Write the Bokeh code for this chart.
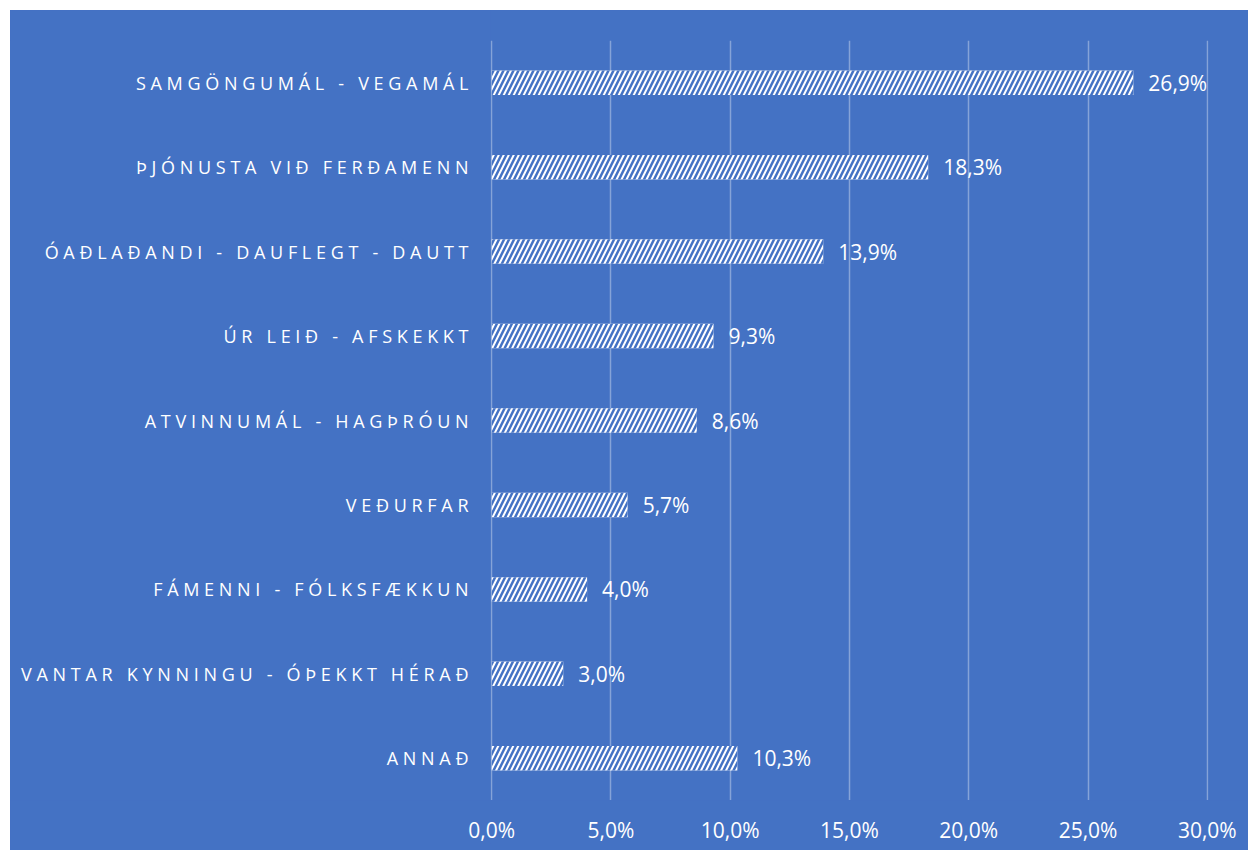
from bokeh.plotting import figure
from bokeh.models import ColumnDataSource, FixedTicker, FactorRange, Range1d, Spacer
from bokeh.layouts import row, column
from bokeh.core.properties import value
from bokeh.embed import file_html
from bokeh.resources import INLINE

categories = [
    "SAMGÖNGUMÁL - VEGAMÁL",
    "ÞJÓNUSTA VIÐ FERÐAMENN",
    "ÓAÐLAÐANDI - DAUFLEGT - DAUTT",
    "ÚR LEIÐ - AFSKEKKT",
    "ATVINNUMÁL - HAGÞRÓUN",
    "VEÐURFAR",
    "FÁMENNI - FÓLKSFÆKKUN",
    "VANTAR KYNNINGU - ÓÞEKKT HÉRAÐ",
    "ANNAÐ",
]
values = [26.9, 18.3, 13.9, 9.3, 8.6, 5.7, 4.0, 3.0, 10.3]
ticks = [0, 5, 10, 15, 20, 25, 30]

def fmt(v):
    return f"{v:.1f}".replace(".", ",") + "%"

BLUE = "#4472C4"
FONT = "Open Sans"
LS = 4.7  # letter spacing of category labels (px)

yr = FactorRange(factors=list(reversed(categories)))
xr = Range1d(-0.05, 30.05)

# ---- left figure: category labels (letter-spaced) ----
lab_src = ColumnDataSource(dict(
    cat=categories,
    x=[1.0] * len(categories),
    off=[-22 - (len(c) - 1) * LS for c in categories],
))
pl = figure(width=480, height=790, y_range=yr, x_range=Range1d(0, 1),
            output_backend="svg", toolbar_location=None,
            min_border_left=0, min_border_right=0, min_border_top=30, min_border_bottom=0)
pl.background_fill_color = BLUE
pl.border_fill_color = BLUE
pl.outline_line_color = None
pl.axis.visible = False
pl.grid.visible = False
pl.text(x="x", y="cat", text="cat", source=lab_src, x_offset="off",
        text_align="right", text_baseline="middle", text_color="white",
        text_font=value(FONT), text_font_size="18px")
pl.styles = {"letter-spacing": f"{LS}px", "background-color": BLUE}

# ---- main figure: bars ----
src = ColumnDataSource(dict(cat=categories, val=values, lab=[fmt(v) for v in values]))
p = figure(width=758, height=790, y_range=yr, x_range=xr,
           output_backend="svg", toolbar_location=None,
           min_border_left=0, min_border_right=40, min_border_top=30, min_border_bottom=0)
p.background_fill_color = BLUE
p.border_fill_color = BLUE
p.outline_line_color = None
p.styles = {"background-color": BLUE}
p.axis.visible = False

p.hbar(y="cat", right="val", height=0.29, source=src,
       fill_color="white", line_color=None,
       hatch_pattern="/", hatch_color=BLUE, hatch_scale=10, hatch_weight=2.5)

p.text(x="val", y="cat", text="lab", source=src, x_offset=15,
       text_baseline="middle", text_align="left", text_color="white",
       text_font=value(FONT), text_font_size="21px")

p.ygrid.grid_line_color = None
p.xgrid.ticker = FixedTicker(ticks=ticks)
p.xgrid.grid_line_color = "white"
p.xgrid.grid_line_alpha = 0.35
p.xgrid.grid_line_width = 1.5

# ---- bottom strip: x tick labels ----
ps = figure(width=1238, height=50, x_range=xr, y_range=Range1d(0, 1),
            x_axis_location="above",
            output_backend="svg", toolbar_location=None,
            min_border_left=480, min_border_right=40, min_border_top=43, min_border_bottom=0)
ps.background_fill_color = BLUE
ps.border_fill_color = BLUE
ps.outline_line_color = None
ps.styles = {"background-color": BLUE}
ps.grid.visible = False
ps.yaxis.visible = False
ps.xaxis.ticker = FixedTicker(ticks=ticks)
ps.xaxis.major_label_overrides = {t: fmt(t) for t in ticks}
ps.xaxis.axis_line_color = None
ps.xaxis.major_tick_line_color = None
ps.xaxis.minor_tick_line_color = None
ps.xaxis.major_tick_out = 0
ps.xaxis.major_tick_in = 0
ps.xaxis.major_label_standoff = 0
ps.xaxis.major_label_text_color = "white"
ps.xaxis.major_label_text_font = FONT
ps.xaxis.major_label_text_font_size = "21px"

layout = column(
    Spacer(height=10, width=1248),
    row(Spacer(width=10, height=790), pl, p),
    row(Spacer(width=10, height=50), ps),
)

open("out.html", "w").write(file_html(layout, INLINE))
